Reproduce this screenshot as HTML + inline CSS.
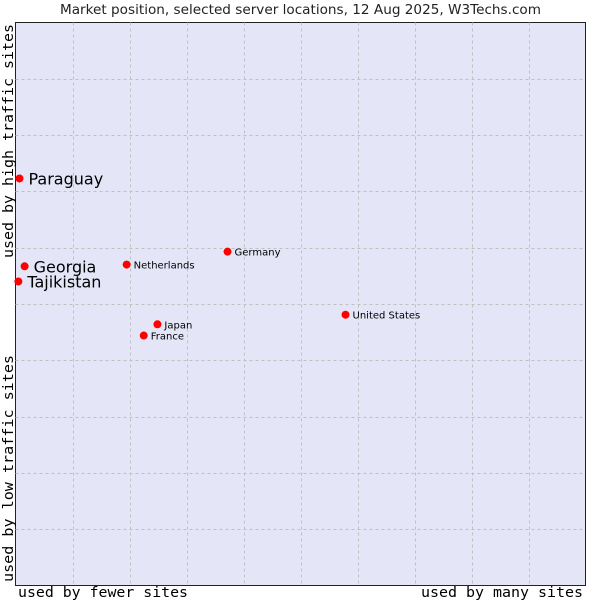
<!DOCTYPE html>
<html><head><meta charset="utf-8"><style>
body{margin:0;background:#fff;width:600px;height:600px;overflow:hidden}
svg{display:block}
</style></head><body>
<svg id="chart" width="600" height="600" font-family="'DejaVu Sans', 'Liberation Sans', sans-serif">
<text x="60" y="14" textLength="481" lengthAdjust="spacingAndGlyphs" font-size="13" fill="#222">Market position, selected server locations, 12 Aug 2025, W3Techs.com</text>
<rect x="15.5" y="22.5" width="570" height="563" fill="#e4e6f8" stroke="#222"/>
<g id="grid"></g>
<g id="points"></g>
<text x="18" y="597" textLength="170" lengthAdjust="spacingAndGlyphs" font-family="'DejaVu Sans Mono','Liberation Mono',monospace" font-size="14" fill="#000">used by fewer sites</text>
<text x="421" y="597" textLength="162" lengthAdjust="spacingAndGlyphs" font-family="'DejaVu Sans Mono','Liberation Mono',monospace" font-size="14" fill="#000">used by many sites</text>
<text transform="translate(13,258) rotate(-90)" textLength="234" lengthAdjust="spacingAndGlyphs" font-family="'DejaVu Sans Mono','Liberation Mono',monospace" font-size="14" fill="#000">used by high traffic sites</text>
<text transform="translate(13,582) rotate(-90)" textLength="227" lengthAdjust="spacingAndGlyphs" font-family="'DejaVu Sans Mono','Liberation Mono',monospace" font-size="14" fill="#000">used by low traffic sites</text>
</svg>
<script>
const names=["Paraguay","Georgia","Tajikistan","Netherlands","Germany","United States","Japan","France"];
const xValues=[0.7,1.6,0.5,19.5,37.2,57.9,24.9,22.5];
const yValues=[72.3,56.7,54.0,57.0,59.3,48.1,46.4,44.4];
const highlighted=[true,true,true,false,false,false,false,false];
const L=15.5,T=22.5,W=570,H=563;
const sx=v=>L+v/100*W, sy=v=>T+H-v/100*H;
const NS="http://www.w3.org/2000/svg";
const grid=document.getElementById('grid');
for(let i=1;i<10;i++){
  const v=document.createElementNS(NS,'line');
  
  
  v.setAttribute('x1',Math.round(sx(i*10))+0.5);v.setAttribute('x2',Math.round(sx(i*10))+0.5);
  v.setAttribute('y1',T);v.setAttribute('y2',T+H);
  v.setAttribute('stroke','#c0c0c0');v.setAttribute('stroke-dasharray','3,3');
  grid.appendChild(v);
  const h=document.createElementNS(NS,'line');
  
  
  h.setAttribute('y1',Math.round(sy(i*10))+0.5);h.setAttribute('y2',Math.round(sy(i*10))+0.5);
  h.setAttribute('x1',L);h.setAttribute('x2',L+W);
  h.setAttribute('stroke','#c0c0c0');h.setAttribute('stroke-dasharray','3,3');
  grid.appendChild(h);
}
const pts=document.getElementById('points');
names.forEach((n,i)=>{
  const x=sx(xValues[i]),y=sy(yValues[i]);
  const c=document.createElementNS(NS,'circle');
  
  
  c.setAttribute('cx',x);c.setAttribute('cy',y);c.setAttribute('r',4);c.setAttribute('fill','#ff0000');
  pts.appendChild(c);
  const t=document.createElementNS(NS,'text');
  
  
  const big=highlighted[i];
  t.setAttribute('x',x+(big?9:7));t.setAttribute('y',y+(big?6:4));
  t.setAttribute('font-size',big?16:10);t.setAttribute('fill','#000');
  t.textContent=n;
  pts.appendChild(t);
});
</script>
</body></html>
